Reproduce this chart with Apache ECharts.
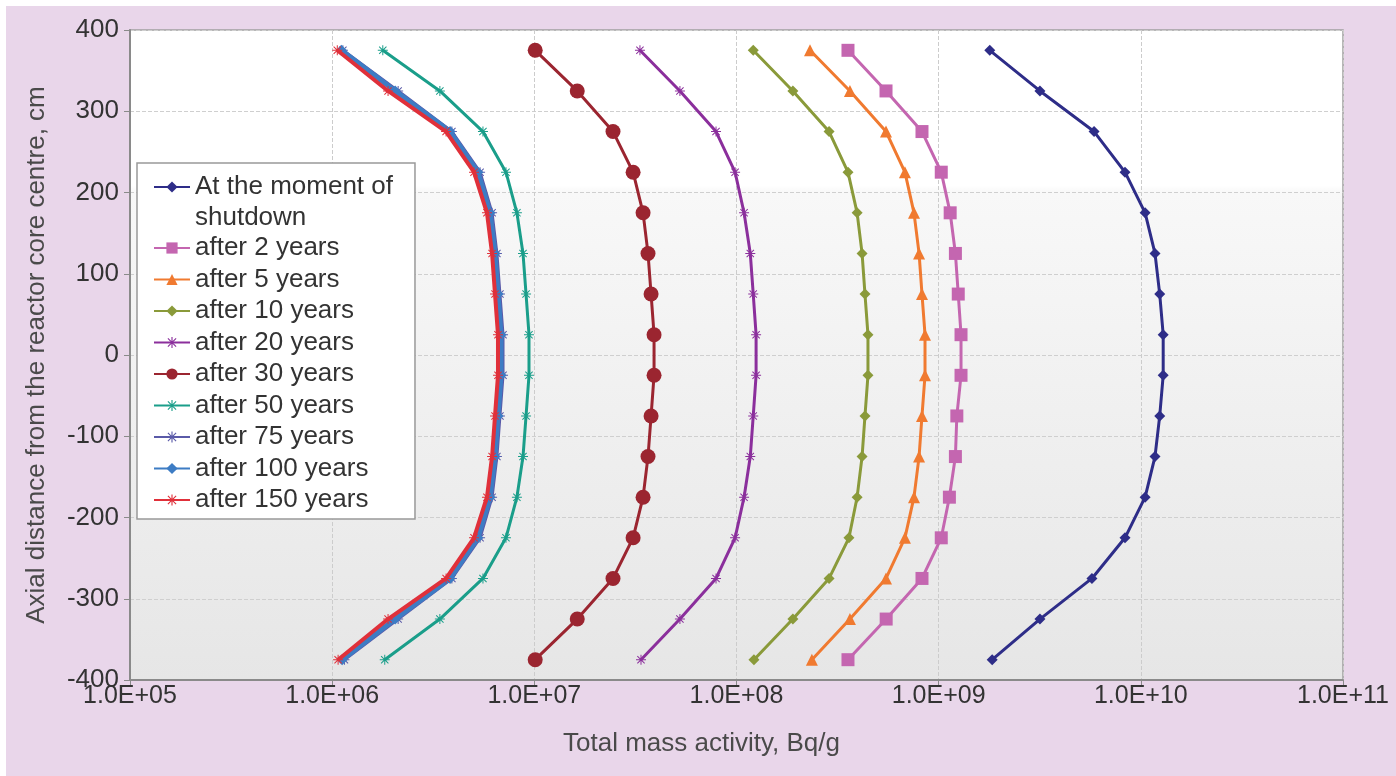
<!DOCTYPE html>
<html><head><meta charset="utf-8">
<script src="https://cdn.jsdelivr.net/npm/echarts@6/dist/echarts.min.js"></script>
<style>
html,body{margin:0;padding:0;background:#fff;width:1396px;height:776px;overflow:hidden}
#bg{position:absolute;left:6px;top:6px;right:0;bottom:0;background:#e9d6ea}
#chart{position:absolute;left:0;top:0;width:1396px;height:776px}
</style></head><body><div id="bg"></div><div id="chart"></div>
<script>
// Axial positions (cm)
const axialPositions = [375,325,275,225,175,125,75,25,-25,-75,-125,-175,-225,-275,-325,-375];

// Total mass activity, Bq/g
const atShutdown = [1.79e9,3.17e9,5.87e9,8.35e9,1.05e10,1.175e10,1.24e10,1.29e10,1.29e10,1.24e10,1.175e10,1.05e10,8.35e9,5.73e9,3.17e9,1.84e9];
const after2  = [3.56e8,5.49e8,8.27e8,1.03e9,1.14e9,1.21e9,1.25e9,1.29e9,1.29e9,1.23e9,1.21e9,1.13e9,1.03e9,8.27e8,5.5e8,3.56e8];
const after5  = [2.31e8,3.64e8,5.49e8,6.81e8,7.55e8,8.0e8,8.27e8,8.56e8,8.56e8,8.27e8,8.0e8,7.55e8,6.81e8,5.49e8,3.64e8,2.36e8];
const after10 = [1.21e8,1.90e8,2.87e8,3.56e8,3.95e8,4.18e8,4.32e8,4.47e8,4.47e8,4.32e8,4.18e8,3.95e8,3.6e8,2.87e8,1.9e8,1.22e8];
const after20 = [3.33e7,5.25e7,7.92e7,9.84e7,1.09e8,1.17e8,1.21e8,1.25e8,1.25e8,1.21e8,1.17e8,1.09e8,9.84e7,7.92e7,5.25e7,3.37e7];
const after30 = [1.01e7,1.63e7,2.45e7,3.08e7,3.45e7,3.65e7,3.78e7,3.91e7,3.91e7,3.78e7,3.65e7,3.45e7,3.08e7,2.45e7,1.63e7,1.01e7];
const after50 = [1.78e6,3.41e6,5.57e6,7.24e6,8.2e6,8.79e6,9.1e6,9.41e6,9.41e6,9.1e6,8.79e6,8.2e6,7.24e6,5.57e6,3.41e6,1.82e6];
const after75 = [1.13e6,2.12e6,3.91e6,5.39e6,6.18e6,6.53e6,6.76e6,7.0e6,7.0e6,6.76e6,6.53e6,6.18e6,5.39e6,3.91e6,2.12e6,1.15e6];
const after100 = [1.11e6,2.05e6,3.83e6,5.26e6,6.04e6,6.39e6,6.61e6,6.84e6,6.84e6,6.61e6,6.39e6,6.04e6,5.26e6,3.83e6,2.05e6,1.12e6];
const after150 = [1.06e6,1.89e6,3.66e6,5.03e6,5.83e6,6.18e6,6.39e6,6.61e6,6.61e6,6.39e6,6.18e6,5.83e6,5.03e6,3.66e6,1.89e6,1.07e6];

const seriesNames = ['At the moment of shutdown','after 2 years','after 5 years','after 10 years','after 20 years','after 30 years','after 50 years','after 75 years','after 100 years','after 150 years'];
const seriesValues = [atShutdown, after2, after5, after10, after20, after30, after50, after75, after100, after150];

const xTickLabels = ['1.0E+05','1.0E+06','1.0E+07','1.0E+08','1.0E+09','1.0E+10','1.0E+11'];
const xAxisTitle = 'Total mass activity, Bq/g';
const yAxisTitle = 'Axial distance from the reactor core centre, cm';

const asterisk = 'path://M9,0H11V20H9Z M0,9H20V11H0Z M2,3.4L3.4,2L18,16.6L16.6,18Z M16.6,2L18,3.4L3.4,18L2,16.6Z';
const styles = [
  {color:'#2e2d88', symbol:'diamond', size:11, width:3},
  {color:'#c466b0', symbol:'rect', size:13, width:3},
  {color:'#f07a30', symbol:'triangle', size:12, width:3},
  {color:'#8a9a3a', symbol:'diamond', size:11, width:3},
  {color:'#8b2f9c', symbol:asterisk, size:10, width:3},
  {color:'#9b2530', symbol:'circle', size:15, width:3},
  {color:'#1a9e8a', symbol:asterisk, size:10, width:3},
  {color:'#5a5aa8', symbol:asterisk, size:10, width:3},
  {color:'#3d7cc4', symbol:'diamond', size:11, width:5},
  {color:'#e0303a', symbol:asterisk, size:10, width:4}
];

const font = "'Liberation Sans', Arial, sans-serif";
const series = seriesNames.map((name, k) => ({
  name: name,
  type: 'line',
  data: axialPositions.map((y, i) => [seriesValues[k][i], y]),
  symbol: styles[k].symbol,
  symbolSize: styles[k].size,
  showAllSymbol: true,
  itemStyle: {color: styles[k].color},
  lineStyle: {color: styles[k].color, width: styles[k].width},
  z: 2 + k
}));
// helper entry for the second legend text line
series.splice(1, 0, {name:'shutdown', type:'line', data:[], symbol:'none', lineStyle:{width:0, opacity:0}, itemStyle:{opacity:0}});

const legendData = seriesNames.map(n => ({name:n}));
legendData.splice(1, 0, {name:'shutdown', icon:'none', lineStyle:{opacity:0, width:0}, itemStyle:{opacity:0}, textStyle:{lineHeight:22}});

const chart = echarts.init(document.getElementById('chart'), null, {renderer:'canvas'});
chart.setOption({
  animation: false,
  backgroundColor: 'transparent',
  textStyle: {fontFamily: font},
  grid: {
    left: 130, right: 53, top: 30, bottom: 96, show: true,
    borderColor: '#a0a0a0', borderWidth: 1.5,
    backgroundColor: new echarts.graphic.LinearGradient(0,0,0,1,[
      {offset:0, color:'#ffffff'},{offset:0.24, color:'#ffffff'},
      {offset:0.25, color:'#f8f8f8'},{offset:1, color:'#e6e6e6'}])
  },
  xAxis: {
    type: 'log', logBase: 10, min: 1e5, max: 1e11, splitNumber: 6,
    name: xAxisTitle, nameLocation: 'middle', nameGap: 51,
    nameTextStyle: {fontSize: 26, color: '#4a4a4a', fontFamily: font, padding: [0, 70, 0, 0]},
    axisLine: {show: true, onZero: false, lineStyle: {color: '#8a8a8a', width: 2}},
    axisTick: {show: true, length: 6, lineStyle: {color: '#8a8a8a'}},
    minorTick: {show: false}, minorSplitLine: {show: false},
    splitLine: {show: true, lineStyle: {type: 'dashed', color: '#cccccc'}},
    axisLabel: {fontSize: 25, color: '#333', margin: 4, fontFamily: font,
      showMinLabel: true, showMaxLabel: true,
      formatter: v => xTickLabels[Math.round(Math.log10(v)) - 5]}
  },
  yAxis: {
    type: 'value', min: -400, max: 400, interval: 100,
    name: yAxisTitle, nameLocation: 'middle', nameGap: 80,
    nameTextStyle: {fontSize: 26, color: '#4a4a4a', fontFamily: font},
    axisLine: {show: true, onZero: false, lineStyle: {color: '#8a8a8a', width: 2}},
    axisTick: {show: true, length: 6, lineStyle: {color: '#8a8a8a'}},
    splitLine: {show: true, lineStyle: {type: 'dashed', color: '#cfcfcf'}},
    axisLabel: {fontSize: 26, color: '#333', margin: 11, fontFamily: font}
  },
  legend: {
    orient: 'vertical', left: 137, top: 163,
    padding: [10, 22, 5, 16], itemGap: 3.5, itemWidth: 36, itemHeight: 14,
    backgroundColor: '#ffffff', borderColor: '#999999', borderWidth: 1.5,
    textStyle: {fontSize: 26, lineHeight: 28, color: '#333', fontFamily: font},
    data: legendData,
    formatter: n => n === 'At the moment of shutdown' ? 'At the moment of' : n
  },
  series: series
});
</script></body></html>
